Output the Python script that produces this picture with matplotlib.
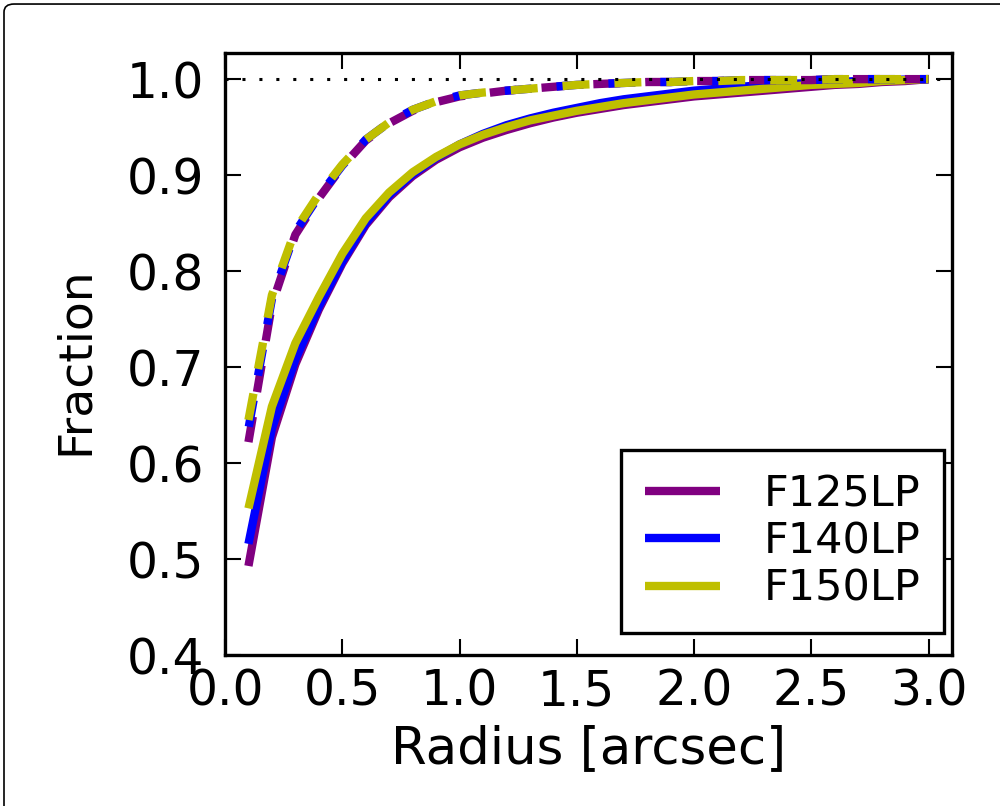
import numpy as np
import matplotlib
matplotlib.use("Agg")
from matplotlib import pyplot as plt
from matplotlib.patches import FancyBboxPatch

plt.rcParams['lines.scale_dashes'] = False
plt.rcParams['font.family'] = 'DejaVu Sans'

radius = [0.1, 0.2, 0.3, 0.4, 0.5, 0.6, 0.7, 0.8, 0.9, 1.0,
          1.1, 1.2, 1.3, 1.4, 1.5, 1.6, 1.7, 1.8, 1.9, 2.0,
          2.1, 2.2, 2.3, 2.4, 2.5, 2.6, 2.7, 2.8, 2.9, 3.0]

filters = ['F125LP', 'F140LP', 'F150LP']
colors = ['purple', 'blue', 'y']

# solid curves
solid_f125 = [0.493, 0.627, 0.703, 0.760, 0.808, 0.848, 0.877, 0.899, 0.916, 0.929,
              0.939, 0.947, 0.954, 0.960, 0.965, 0.969, 0.973, 0.976, 0.979, 0.982,
              0.984, 0.986, 0.988, 0.990, 0.992, 0.994, 0.995, 0.997, 0.998, 1.000]
solid_f140 = [0.516, 0.636, 0.708, 0.763, 0.810, 0.850, 0.879, 0.901, 0.918, 0.932,
              0.943, 0.952, 0.959, 0.965, 0.970, 0.975, 0.979, 0.982, 0.985, 0.988,
              0.990, 0.992, 0.994, 0.995, 0.996, 0.997, 0.998, 0.999, 0.9995, 1.000]
solid_f150 = [0.553, 0.659, 0.725, 0.773, 0.818, 0.855, 0.882, 0.903, 0.919, 0.932,
              0.942, 0.950, 0.957, 0.962, 0.967, 0.971, 0.975, 0.978, 0.981, 0.984,
              0.986, 0.988, 0.990, 0.992, 0.994, 0.995, 0.996, 0.998, 0.999, 1.000]

# dashed curves
dash_f125 = [0.622, 0.765, 0.838, 0.876, 0.909, 0.936, 0.954, 0.967, 0.976, 0.982,
             0.985, 0.988, 0.990, 0.992, 0.994, 0.995, 0.996, 0.997, 0.997, 0.998,
             0.998, 0.999, 0.999, 0.999, 0.999, 1.000, 1.000, 1.000, 1.000, 1.000]
dash_f140 = [0.636, 0.771, 0.841, 0.878, 0.910, 0.937, 0.955, 0.968, 0.977, 0.983,
             0.986, 0.988, 0.990, 0.992, 0.994, 0.995, 0.996, 0.997, 0.997, 0.998,
             0.998, 0.999, 0.999, 0.999, 0.999, 1.000, 1.000, 1.000, 1.000, 1.000]
dash_f150 = [0.645, 0.775, 0.843, 0.880, 0.911, 0.937, 0.955, 0.968, 0.977, 0.983,
             0.986, 0.988, 0.990, 0.992, 0.994, 0.995, 0.996, 0.997, 0.997, 0.998,
             0.998, 0.999, 0.999, 0.999, 0.999, 1.000, 1.000, 1.000, 1.000, 1.000]

solid = [solid_f125, solid_f140, solid_f150]
dashed = [dash_f125, dash_f140, dash_f150]

DPI = 100
dash_on, dash_off = 19.4, 18.0          # points
# how far (in px) each dashed line's pattern runs ahead of the yellow one
phase_lead = [21.0, 6.0, 0.0]

fig = plt.figure(figsize=(10, 8.06), dpi=DPI)
ax = fig.add_axes([0.225, 0.187, 0.727, 0.747])
ax.set_xlim(0, 3.1)
ax.set_ylim(0.4, 1.027)

# figure frame, cut off at right and bottom like the original
frame = FancyBboxPatch((0.004, -0.05), 1.2, 1.045, boxstyle="round,pad=0,rounding_size=0.01",
                       transform=fig.transFigure, fill=False, ec='black', lw=1.2)
fig.patches.append(frame)


def path_length(xs, ys, upto):
    pts = ax.transData.transform(np.column_stack([xs[:upto + 1], ys[:upto + 1]]))
    return np.sum(np.hypot(np.diff(pts[:, 0]), np.diff(pts[:, 1])))


# line the dash patterns up so they interleave like the original
period_px = (dash_on + dash_off) * DPI / 72.0
ref_idx = 9
len_y = path_length(radius, dashed[2], ref_idx)
dash_offsets = []
for i in range(3):
    li = path_length(radius, dashed[i], ref_idx)
    off_px = (len_y + phase_lead[i] - li) % period_px
    dash_offsets.append(off_px * 72.0 / DPI)

for i in range(3):
    ax.plot(radius, solid[i], color=colors[i], lw=6, label=filters[i], solid_capstyle='butt')
for i in range(3):
    ax.plot(radius, dashed[i], color=colors[i], lw=6,
            linestyle=(dash_offsets[i], (dash_on, dash_off)), dash_capstyle='butt')

ax.axhline(1.0, color='black', lw=2.2, linestyle=(0, (2.2, 10.0)), zorder=5)

ax.set_xticks(np.arange(0, 3.01, 0.5))
ax.set_yticks(np.arange(0.4, 1.01, 0.1))
ax.xaxis.set_major_formatter(matplotlib.ticker.FormatStrFormatter('%.1f'))
ax.yaxis.set_major_formatter(matplotlib.ticker.FormatStrFormatter('%.1f'))
ax.tick_params(direction='in', length=11.5, width=1.5, labelsize=35,
               top=True, right=True)
ax.tick_params(axis='x', pad=9)
ax.tick_params(axis='y', pad=15)
for s in ax.spines.values():
    s.set_linewidth(2.4)

ax.set_xlabel('Radius [arcsec]', fontsize=37)
ax.set_ylabel('Fraction', fontsize=34)
ax.xaxis.set_label_coords(0.5, -0.115)
ax.yaxis.set_label_coords(-0.175, 0.49)

leg = ax.legend(loc='lower right', bbox_to_anchor=(0.989, 0.0365), borderaxespad=0,
                fontsize=31, handlelength=1.75, handletextpad=1.0, labelspacing=0.12,
                borderpad=0.55, fancybox=False, framealpha=1)
leg.get_frame().set_edgecolor('black')
leg.get_frame().set_linewidth(2.4)

fig.savefig('out.png', dpi=DPI)
